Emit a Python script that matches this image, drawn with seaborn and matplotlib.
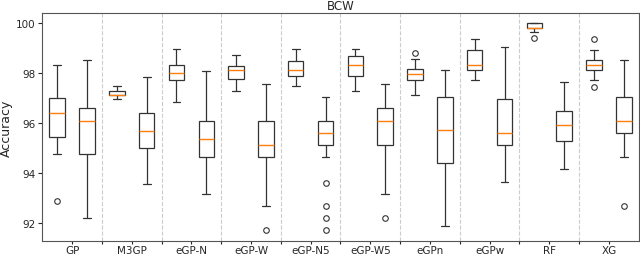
import numpy as np
import pandas as pd
import matplotlib
matplotlib.use("Agg")
import matplotlib.pyplot as plt
import seaborn as sns

methods = ["GP", "M3GP", "eGP-N", "eGP-W", "eGP-N5", "eGP-W5", "eGPn", "eGPw", "RF", "XG"]

# five-number summaries: (low whisker, q1, median, q3, high whisker)
train_stats = [
    (94.76, 95.44, 96.41, 97.01, 98.30),
    (96.94, 97.10, 97.13, 97.29, 97.48),
    (96.84, 97.70, 98.01, 98.30, 98.94),
    (97.28, 97.74, 98.12, 98.26, 98.70),
    (97.48, 97.89, 98.12, 98.49, 98.94),
    (97.28, 97.89, 98.30, 98.68, 98.94),
    (97.13, 97.73, 97.94, 98.14, 98.56),
    (97.72, 98.12, 98.30, 98.90, 99.36),
    (99.62, 99.79, 99.80, 100.0, 100.0),
    (97.72, 98.12, 98.30, 98.53, 98.93),
]
test_stats = [
    (92.17, 94.76, 96.08, 96.58, 98.53),
    (93.54, 94.98, 95.69, 96.41, 97.84),
    (93.14, 94.61, 95.34, 96.08, 98.06),
    (92.68, 94.61, 95.12, 96.08, 97.54),
    (94.62, 95.10, 95.60, 96.08, 97.05),
    (93.14, 95.10, 96.08, 96.58, 97.54),
    (91.85, 94.40, 95.70, 97.03, 98.10),
    (93.64, 95.10, 95.60, 96.94, 99.02),
    (94.13, 95.28, 95.90, 96.46, 97.65),
    (94.62, 95.60, 96.08, 97.05, 98.53),
]
# outliers: (low, high)
train_fliers = [([92.88], []), ([], []), ([], []), ([], []), ([], []),
                ([], []), ([], [98.80]), ([], []), ([99.41], []), ([97.44], [99.36])]
test_fliers = [([], []), ([], []), ([], []), ([91.69], []),
               ([91.69, 92.18, 92.68, 93.58], []), ([92.18], []),
               ([], []), ([], []), ([], []), ([92.68], [])]


def sample(stats, fliers):
    # 21 values whose quartiles / whiskers reproduce the read summary
    lo, q1, med, q3, hi = stats
    low_f, high_f = fliers
    vals = sorted(low_f) + [lo] * (5 - len(low_f))
    vals += [q1] * 5 + [med] * 5 + [q3]
    vals += [hi] * (5 - len(high_f)) + sorted(high_f)
    return vals


rows = []
for i, m in enumerate(methods):
    for split, st, fl in [("train", train_stats, train_fliers), ("test", test_stats, test_fliers)]:
        for v in sample(st[i], fl[i]):
            rows.append({"method": m, "split": split, "acc": v})
df = pd.DataFrame(rows)

sns.set_style("ticks")
plt.rcParams["font.family"] = ["DejaVu Sans"]

fig = plt.figure(figsize=(6.4, 2.55), dpi=100)
ax = fig.add_axes([0.066, 0.05, 0.932, 0.895])

LINE = "#333333"
sns.boxplot(df, x="method", y="acc", hue="split", order=methods,
            hue_order=["train", "test"], palette=["white", "white"], saturation=1,
            width=1.0, gap=0.48, linecolor=LINE, linewidth=0.9, legend=False, ax=ax,
            medianprops=dict(color="#ff7f0e", linewidth=1),
            flierprops=dict(marker="o", markerfacecolor="none", markeredgecolor=LINE,
                            markersize=4, markeredgewidth=0.8))

for x in np.arange(0.5, len(methods) - 1, 1):
    ax.axvline(x, color="#cccccc", ls="--", lw=0.8, zorder=0)

ax.set_xlim(-0.5, len(methods) - 0.5)
ax.set_ylim(91.25, 100.4)
ax.set_xticks(np.arange(0.5, len(methods) - 1, 1), minor=True)
ax.tick_params(axis="x", which="minor", length=2.5, width=0.8)
ax.tick_params(axis="both", which="major", labelsize=7.5, length=3, width=0.8)
ax.tick_params(axis="x", which="major", pad=0.5, length=2.5)
ax.tick_params(axis="y", which="major", pad=2)
ax.set_yticks([92, 94, 96, 98, 100])
ax.set_xlabel("")
ax.set_ylabel("Accuracy", fontsize=9, labelpad=2)
ax.set_title("BCW", fontsize=8.5, pad=3)
for s in ax.spines.values():
    s.set_visible(True)
    s.set_color("#555555")

plt.savefig("out.png", dpi=100)
